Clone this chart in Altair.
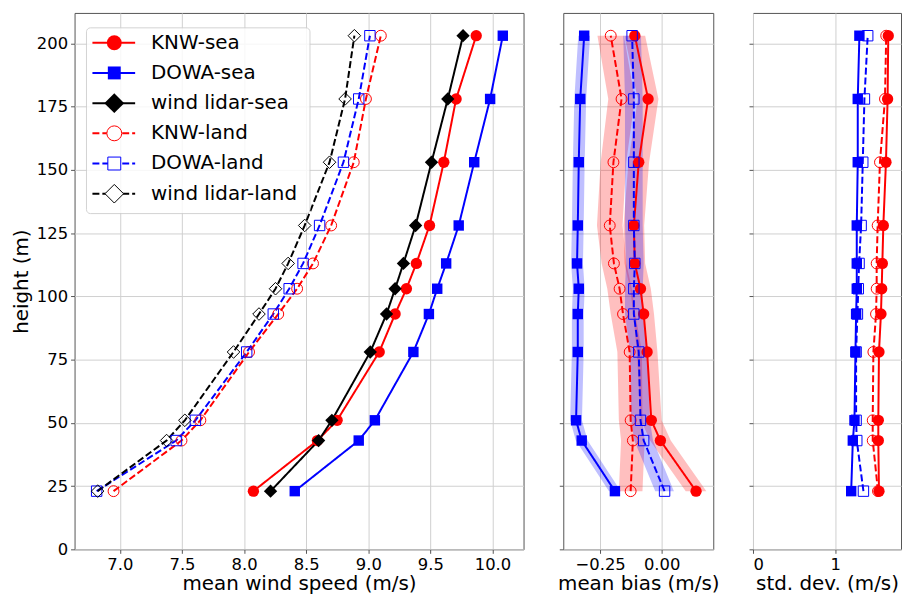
import altair as alt
import pandas as pd

heights = [23, 43, 51, 78, 93, 103, 113, 128, 153, 178, 203]

series = ["KNW-sea", "DOWA-sea", "wind lidar-sea", "KNW-land", "DOWA-land", "wind lidar-land"]
colors = ["#ff0000", "#0000ff", "#000000", "#ff0000", "#0000ff", "#000000"]
shapes = ["circle", "square", "diamond", "circle", "square", "diamond"]
dashes = [[1, 0], [1, 0], [1, 0], [7, 3], [7, 3], [7, 3]]
filled = [True, True, True, False, False, False]
msize = [130, 110, 180, 120, 110, 160]
lsize = [225, 169, 400, 225, 169, 350]

# mean wind speed (m/s)
speed_knw_sea = [8.075, 8.59, 8.749, 9.088, 9.216, 9.307, 9.387, 9.493, 9.608, 9.707, 9.869]
speed_dowa_sea = [8.408, 8.923, 9.053, 9.363, 9.488, 9.555, 9.627, 9.728, 9.853, 9.981, 10.083]
speed_lidar_sea = [8.213, 8.60, 8.707, 9.016, 9.147, 9.216, 9.283, 9.381, 9.509, 9.64, 9.763]
speed_knw_land = [6.949, 7.496, 7.648, 8.04, 8.275, 8.427, 8.555, 8.701, 8.883, 8.981, 9.101]
speed_dowa_land = [6.813, 7.453, 7.608, 8.021, 8.235, 8.363, 8.475, 8.608, 8.80, 8.923, 9.013]
speed_lidar_land = [6.821, 7.376, 7.523, 7.915, 8.12, 8.253, 8.355, 8.488, 8.688, 8.813, 8.888]

# mean bias (m/s)
bias_knw_sea = [0.14, -0.005, -0.042, -0.059, -0.073, -0.086, -0.109, -0.113, -0.093, -0.055, -0.109]
bias_dowa_sea = [-0.19, -0.325, -0.348, -0.341, -0.341, -0.337, -0.344, -0.341, -0.337, -0.331, -0.315]
bias_knw_land = [-0.126, -0.117, -0.126, -0.13, -0.157, -0.171, -0.194, -0.211, -0.196, -0.163, -0.207]
bias_dowa_land = [0.012, -0.073, -0.086, -0.093, -0.113, -0.113, -0.109, -0.113, -0.113, -0.113, -0.12]
# half width of shaded bands (m/s)
band_knw_sea = [0.042, 0.042, 0.042, 0.042, 0.042, 0.042, 0.042, 0.042, 0.042, 0.042, 0.042]
band_dowa_sea = [0.024, 0.024, 0.024, 0.024, 0.024, 0.024, 0.024, 0.024, 0.024, 0.024, 0.024]
band_knw_land = [0.048, 0.048, 0.048, 0.05, 0.05, 0.05, 0.05, 0.052, 0.052, 0.054, 0.054]
band_dowa_land = [0.038, 0.038, 0.038, 0.036, 0.036, 0.036, 0.036, 0.036, 0.036, 0.036, 0.036]

# std. dev. (m/s)
std_knw_sea = [1.532, 1.524, 1.524, 1.532, 1.556, 1.565, 1.573, 1.585, 1.617, 1.637, 1.645]
std_dowa_sea = [1.194, 1.214, 1.234, 1.246, 1.254, 1.262, 1.262, 1.262, 1.274, 1.274, 1.294]
std_knw_land = [1.52, 1.456, 1.456, 1.464, 1.496, 1.504, 1.504, 1.516, 1.544, 1.605, 1.62]
std_dowa_land = [1.343, 1.262, 1.254, 1.254, 1.27, 1.28, 1.29, 1.315, 1.335, 1.355, 1.395]

y_ticks = [0, 25, 50, 75, 100, 125, 150, 175, 200]
speed_ticks = [7.0, 7.5, 8.0, 8.5, 9.0, 9.5, 10.0]
bias_ticks = [-0.25, 0.0]
std_ticks = [0, 1]

PLOT_H = 540


def long_frame(values_by_series, bands=None):
    rows = []
    for name, vals in values_by_series.items():
        i = series.index(name)
        for k, (h, v) in enumerate(zip(heights, vals)):
            r = {"series": name, "height": h, "value": v, "filled": filled[i], "msize": msize[i]}
            if bands is not None:
                r["lo"] = v - bands[name][k]
                r["hi"] = v + bands[name][k]
            rows.append(r)
    return pd.DataFrame(rows)


speed_df = long_frame({
    "KNW-sea": speed_knw_sea, "DOWA-sea": speed_dowa_sea, "wind lidar-sea": speed_lidar_sea,
    "KNW-land": speed_knw_land, "DOWA-land": speed_dowa_land, "wind lidar-land": speed_lidar_land,
})
bias_df = long_frame(
    {"KNW-sea": bias_knw_sea, "DOWA-sea": bias_dowa_sea, "KNW-land": bias_knw_land, "DOWA-land": bias_dowa_land},
    {"KNW-sea": band_knw_sea, "DOWA-sea": band_dowa_sea, "KNW-land": band_knw_land, "DOWA-land": band_dowa_land},
)
std_df = long_frame({"KNW-sea": std_knw_sea, "DOWA-sea": std_dowa_sea, "KNW-land": std_knw_land, "DOWA-land": std_dowa_land})

legend_df = pd.DataFrame({
    "series": series, "row": list(range(len(series))), "filled": filled, "lsize": lsize,
})

color_enc = alt.Color("series:N", scale=alt.Scale(domain=series, range=colors), legend=None)
shape_enc = alt.Shape("series:N", scale=alt.Scale(domain=series, range=shapes), legend=None)
dash_enc = alt.StrokeDash("series:N", scale=alt.Scale(domain=series, range=dashes), legend=None)

Y_DOMAIN = [0, 212]


def y_enc(show_labels):
    if show_labels:
        ax = alt.Axis(values=y_ticks, title="height (m)", titlePadding=5, labelPadding=3)
    else:
        ax = alt.Axis(values=y_ticks, title=None, labels=False)
    return alt.Y("height:Q", scale=alt.Scale(domain=Y_DOMAIN, nice=False, zero=False), axis=ax)


def profile_layers(df, xdomain, xticks, xfmt, xtitle, show_labels, band=False):
    base = alt.Chart(df)
    xscale = alt.Scale(domain=xdomain, nice=False, zero=False)
    xaxis = alt.Axis(values=xticks, format=xfmt, title=xtitle)
    x = alt.X("value:Q", scale=xscale, axis=xaxis)
    y = y_enc(show_labels)
    layers = []
    if band:
        layers.append(base.mark_area(orient="horizontal", opacity=0.25).encode(
            y=y, x=alt.X("lo:Q", scale=xscale, axis=xaxis), x2="hi:Q", color=color_enc, detail="series:N"))
    layers.append(base.mark_line(strokeWidth=2).encode(
        x=x, y=y, color=color_enc, strokeDash=dash_enc, order="height:Q", detail="series:N"))
    layers.append(base.transform_filter("datum.filled").mark_point(filled=True, opacity=1).encode(
        x=x, y=y, color=color_enc, shape=shape_enc, size=alt.Size("msize:Q", scale=None)))
    layers.append(base.transform_filter("!datum.filled").mark_point(filled=False, opacity=1, strokeWidth=1).encode(
        x=x, y=y, color=color_enc, shape=shape_enc, size=alt.Size("msize:Q", scale=None)))
    return alt.layer(*layers)


main_data = profile_layers(speed_df, [6.635, 10.25], speed_ticks, ".1f", "mean wind speed (m/s)", True)

ly = alt.Y("row:Q", scale=alt.Scale(domain=[0, 5], range=[30, 182]), axis=None)
lbase = alt.Chart(legend_df)
legend_box = alt.Chart(pd.DataFrame({"k": [0]})).mark_rect(
    fill="white", opacity=0.85, stroke="#cccccc", strokeWidth=1, cornerRadius=4
).encode(x=alt.value(12), x2=alt.value(237), y=alt.value(15), y2=alt.value(202))
legend_lines = lbase.mark_rule(strokeWidth=2).encode(
    x=alt.value(18), x2=alt.value(61), y=ly, color=color_enc, strokeDash=dash_enc)
legend_pf = lbase.transform_filter("datum.filled").mark_point(filled=True, opacity=1).encode(
    x=alt.value(40), y=ly, color=color_enc, shape=shape_enc, size=alt.Size("lsize:Q", scale=None))
legend_po = lbase.transform_filter("!datum.filled").mark_point(filled=False, opacity=1, strokeWidth=1, fill="white").encode(
    x=alt.value(40), y=ly, color=color_enc, shape=shape_enc, size=alt.Size("lsize:Q", scale=None))
legend_text = lbase.mark_text(align="left", baseline="middle", fontSize=20, font="DejaVu Sans", color="black").encode(
    x=alt.value(77), y=ly, text="series:N")
legend_layer = alt.layer(legend_box, legend_lines, legend_pf, legend_po, legend_text)

main = alt.layer(main_data, legend_layer).resolve_scale(y="independent").properties(width=452, height=PLOT_H)

bias = profile_layers(bias_df, [-0.4, 0.21], bias_ticks, ".2f", "mean bias (m/s)", False, band=True).properties(
    width=151, height=PLOT_H)
std = profile_layers(std_df, [0, 1.8], std_ticks, "d", "std. dev. (m/s)", False).properties(width=149, height=PLOT_H)

chart = alt.hconcat(main, bias, std, spacing=40, bounds="flush").properties(
    padding={"left": 3, "top": 2, "right": 0, "bottom": 0}
).configure(font="DejaVu Sans").configure_view(
    stroke="#555555", strokeWidth=1
).configure_axis(
    domain=False, grid=True, gridColor="#d0d0d0", gridWidth=1,
    tickColor="#555555", tickSize=4, labelFontSize=16.5, labelColor="black", labelPadding=3,
    titleFontSize=20, titleFontWeight="normal", titleColor="black", labelFont="DejaVu Sans", titleFont="DejaVu Sans",
    titlePadding=1
)

chart.save("out.html", embed_options={"renderer": "svg", "actions": False})
